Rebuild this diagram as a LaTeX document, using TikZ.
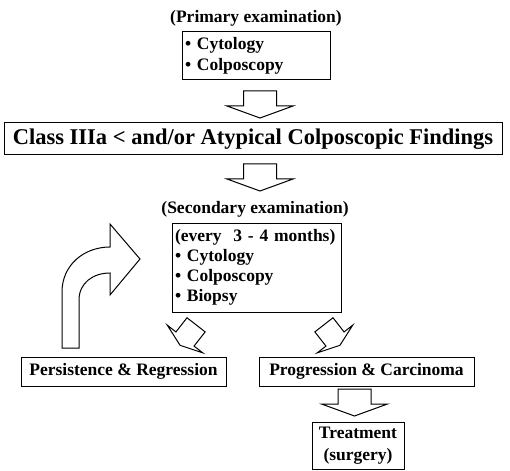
\documentclass[tikz,border=0pt]{standalone}
\usepackage{fontspec}
\setmainfont{Liberation Serif}
\begin{document}
\begin{tikzpicture}[x=1pt,y=-1pt,
  box/.style={draw,line width=1pt,inner sep=0pt,font=\bfseries\fontsize{17.5}{20}\selectfont},
  lbl/.style={inner sep=0pt,font=\bfseries\fontsize{17.5}{20}\selectfont},
  blk/.style={draw,line width=1pt,line join=miter,fill=white}]
\useasboundingbox (0,0) rectangle (510,470);
% labels
\node[lbl] (prim) at (256,18.5) {(Primary examination)};
\node[lbl] (sec) at (255,209.5) {(Secondary examination)};
% boxes
\node[box,minimum width=148pt,minimum height=48pt,text width=142pt,align=left,font=\bfseries\fontsize{17.5}{21.5}\selectfont] (b1) at (256,56)
  {\textbullet\ Cytology\\ \textbullet\ Colposcopy};
\node[box,minimum width=498pt,minimum height=32pt,font=\bfseries\fontsize{22.5}{26}\selectfont] (cls) at (253,139)
  {Class IIIa < and/or Atypical Colposcopic Findings};
\node[box,minimum width=169pt,minimum height=89pt,text width=163pt,align=left] (b2) at (256.5,267.5)
  {(every\ \ 3 - 4 months)\\ \textbullet\ Cytology\\ \textbullet\ Colposcopy\\ \textbullet\ Biopsy};
\node[box,minimum width=205pt,minimum height=29pt] (per) at (123.5,371.5)
  {Persistence \& Regression};
\node[box,minimum width=215pt,minimum height=29pt] (pro) at (366.5,371.5)
  {Progression \& Carcinoma};
\node[box,minimum width=92pt,minimum height=47pt,text width=90pt,align=center,font=\bfseries\fontsize{17.5}{22}\selectfont] (tre) at (358,445.5)
  {Treatment\\(surgery)};
% big block arrows
\foreach \cx/\cy in {260/106, 260/179, 354.5/404}{
  \draw[blk] (\cx,\cy) ++(-16.5,0) -- ++(0,-15) -- ++(33,0) -- ++(0,15) -- ++(16.5,0)
     -- (\cx,\cy+12) -- (\cx-33,\cy) -- cycle;
}
% small rotated block arrows
\begin{scope}[shift={(185,339)},rotate=-38]
  \draw[blk] (-11.5,0) -- (-11.5,-18) -- (11.5,-18) -- (11.5,0) -- (22.5,0) -- (0,8) -- (-22.5,0) -- cycle;
\end{scope}
\begin{scope}[shift={(335,339)},rotate=38]
  \draw[blk] (-11.5,0) -- (-11.5,-18) -- (11.5,-18) -- (11.5,0) -- (22.5,0) -- (0,8) -- (-22.5,0) -- cycle;
\end{scope}
% curved return arrow
\draw[blk] (62,348) -- (62,292) .. controls (62,265) and (84,247) .. (110,247)
  -- (110,224) -- (140,259) -- (110,295) -- (110,273)
  .. controls (93,273) and (79,283) .. (79,300) -- (79,348) -- cycle;
\end{tikzpicture}
\end{document}
